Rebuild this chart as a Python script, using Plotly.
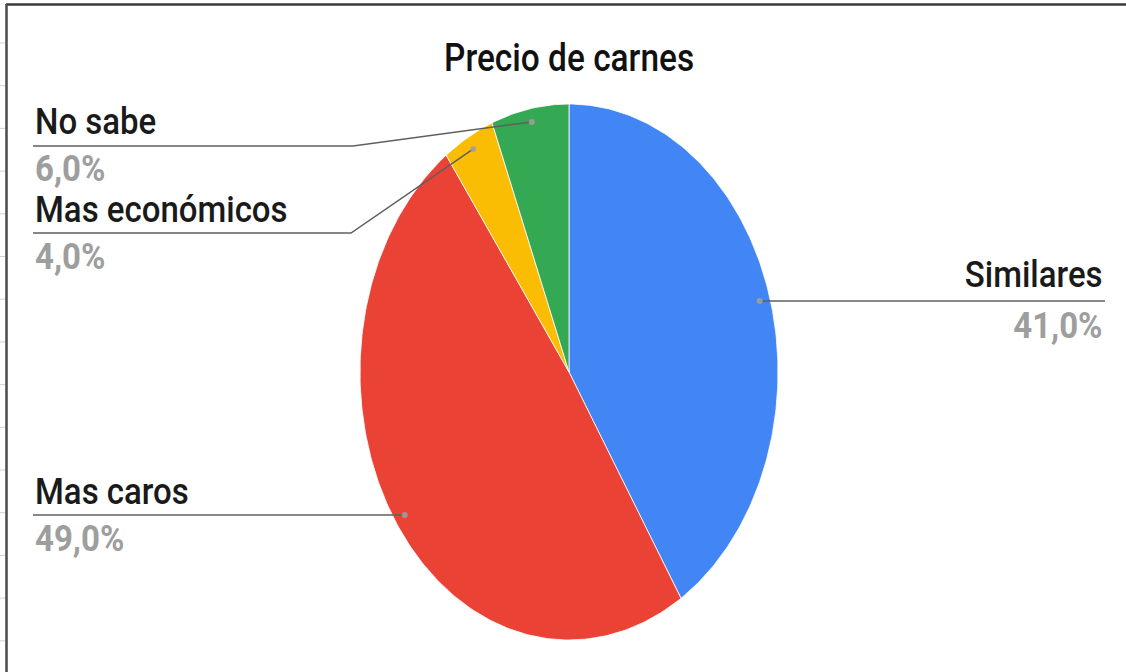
import numpy as np
import plotly.graph_objects as go

# Survey: perceived price of meat
title = "Precio de carnes"
categories = ["Similares", "Mas caros", "Mas económicos", "No sabe"]
shares = [41.0, 49.0, 4.0, 6.0]
pct_labels = ["41,0%", "49,0%", "4,0%", "6,0%"]
colors = ["#4285F4", "#EA4335", "#FBBC04", "#34A853"]

W, H = 1126, 672
CX, CY = 569, 372          # pie centre (pixel space)
RX, RY = 209, 268          # pie radii (pie is drawn stretched vertically)
DOT_R = 0.95               # leader-line anchor, as fraction of radius
TEXT_SQUEEZE = 0.88        # horizontal text compression, matching the stretched pie

FONT = "Roboto, 'Liberation Sans', Arial, sans-serif"

fig = go.Figure()


def pt(frac, r=1.0):
    """Point on the (elliptical) pie for a cumulative fraction, clockwise from 12 o'clock."""
    a = 2 * np.pi * frac
    return CX + RX * r * np.sin(a), CY - RY * r * np.cos(a)


total = sum(shares)
start = 0.0
anchors = []
for name, v, c in zip(categories, shares, colors):
    f0, f1 = start / total, (start + v) / total
    ts = np.linspace(f0, f1, max(int(400 * (f1 - f0)), 12))
    xs, ys = pt(ts)
    px = np.concatenate([[CX], xs, [CX]])
    py = np.concatenate([[CY], ys, [CY]])
    fig.add_trace(go.Scatter(
        x=px, y=py, mode="lines", fill="toself", fillcolor=c,
        line=dict(color="white", width=0.8), hoverinfo="text",
        text=f"{name}: {v:.1f}%", showlegend=False,
    ))
    anchors.append(pt((f0 + f1) / 2, DOT_R))
    start += v

# label blocks: (left/right x, name centre y, pct centre y, leader y, elbow x, side)
label_layout = {
    "Similares": dict(x=1105, ny=274, py=325, ly=None, ex=None, side="right"),
    "Mas caros": dict(x=33, ny=491, py=538, ly=None, ex=None, side="left"),
    "Mas económicos": dict(x=33, ny=209, py=256, ly=233, ex=351, side="left"),
    "No sabe": dict(x=33, ny=121, py=168, ly=146, ex=353, side="left"),
}

LINE_C = "#5f5f5f"
for (ax_, ay_), name, pl in zip(anchors, categories, pct_labels):
    L = label_layout[name]
    if L["side"] == "right":
        lx, ly = [ax_, L["x"]], [ay_, ay_]
    elif L["ly"] is None:
        lx, ly = [L["x"], ax_], [ay_, ay_]
    else:
        lx, ly = [L["x"], L["ex"], ax_], [L["ly"], L["ly"], ay_]
    fig.add_trace(go.Scatter(x=lx, y=ly, mode="lines",
                             line=dict(color=LINE_C, width=1.5),
                             hoverinfo="skip", showlegend=False))
    fig.add_trace(go.Scatter(x=[ax_], y=[ay_], mode="markers",
                             marker=dict(size=6, color="rgba(160,160,160,0.85)"),
                             hoverinfo="skip", showlegend=False))
    anc = "right" if L["side"] == "right" else "left"
    fig.add_annotation(x=L["x"], y=L["ny"], text=name, showarrow=False,
                       xanchor=anc, yanchor="middle", align=anc,
                       font=dict(family=FONT, size=37.5, color="#1a1a1a", weight=500))
    fig.add_annotation(x=L["x"], y=L["py"], text=pl, showarrow=False,
                       xanchor=anc, yanchor="middle", align=anc,
                       font=dict(family=FONT, size=37.5, color="#9e9e9e", weight=700))

fig.add_annotation(x=CX, y=58, text=title, showarrow=False,
                   xanchor="center", yanchor="middle", align="center",
                   font=dict(family=FONT, size=38, color="#111111", weight=500))

# frame and sheet row marks at the left edge
shapes = [
    dict(type="line", x0=6, x1=W, y0=4.5, y1=4.5, line=dict(color="#3a3a3a", width=2.5)),
    dict(type="line", x0=6.5, x1=6.5, y0=4, y1=H, line=dict(color="#4a4a4a", width=2.5)),
]
for k in range(15):
    yy = 43 + 42.7 * k
    shapes.append(dict(type="line", x0=0, x1=5, y0=yy, y1=yy,
                       line=dict(color="#d0d0d0", width=1)))

fig.update_layout(
    width=W, height=H, margin=dict(l=0, r=0, t=0, b=0),
    paper_bgcolor="white", plot_bgcolor="white",
    xaxis=dict(range=[0, W], visible=False, fixedrange=True),
    yaxis=dict(range=[H, 0], visible=False, fixedrange=True),
    shapes=shapes,
)

# compress annotation text horizontally about its own anchor side
squeeze_js = """
(function () {
  var s = %f;
  document.querySelectorAll('text.annotation-text').forEach(function (t) {
    var b = t.getBBox();
    var a = t.getAttribute('text-anchor') || 'start';
    var ox = a === 'end' ? b.x + b.width : (a === 'middle' ? b.x + b.width / 2 : b.x);
    t.setAttribute('transform',
      'translate(' + ox + ',0) scale(' + s + ',1) translate(' + (-ox) + ',0)');
  });
})();
""" % TEXT_SQUEEZE

fig.write_html("out.html", config={"displayModeBar": False}, post_script=squeeze_js)
